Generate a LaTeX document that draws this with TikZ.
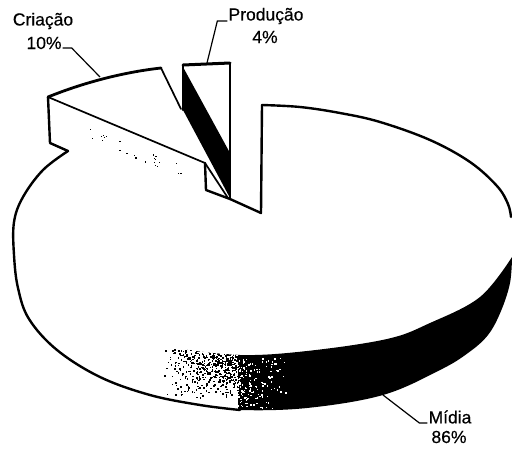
\documentclass[tikz,border=0pt]{standalone}
\usepackage{fontspec}
\setmainfont[RawFeature={embolden=0.4}]{Liberation Sans}
\tikzset{
  outline/.style={draw=black,line width=2.4pt,line join=round,line cap=round},
  thinline/.style={draw=black,line width=1.7pt,line join=round,line cap=round},
  leader/.style={draw=black,line width=1.2pt},
  lab/.style={inner sep=0pt,font=\fontsize{17.5pt}{20pt}\selectfont,text=black}
}
\begin{document}
\begin{tikzpicture}[x=1pt,y=-1pt]
\useasboundingbox (0,0) rectangle (512,448);
\fill[white] (0,0) rectangle (512,448);
% band (side of the big slice)
\def\bandpath{plot[smooth,tension=0.6] coordinates {(150,395) (200,405) (240,410) (307,408) (383,395) (440,370) (468,353) (488,335) (501,311) (510,283) (512,257)}
  -- plot[smooth,tension=0.6] coordinates {(512,257) (480,297) (430,323) (387,339) (307,351) (240,355) (173,348) (150,344)} -- cycle}
\begin{scope}
  \clip \bandpath;
  \fill[black] (238,250) rectangle (512,415);
  \pgfmathsetseed{4711}
  \foreach \i in {1,...,560}{
    \pgfmathsetmacro{\px}{160+78*sqrt(rnd)}
    \pgfmathsetmacro{\py}{348+52*rnd*sqrt(rnd)}
    \fill[black] (\px,\py) rectangle ++(1.5,1.5);
  }
  \foreach \i in {1,...,170}{
    \pgfmathsetmacro{\px}{236+60*rnd*rnd}
    \pgfmathsetmacro{\py}{358+50*rnd}
    \fill[white] (\px,\py) rectangle ++(1.4,1.4);
  }
\end{scope}
% big slice outline
\draw[outline] plot[smooth,tension=0.6] coordinates {(68,151) (43,170) (23,197) (14,222) (14,255) (18,288) (29,319) (57,350) (100,377) (150,395) (200,405) (240,410)};
\draw[outline] (68,151) -- (50,143) -- (48,97);
\draw[outline] plot[smooth,tension=0.6] coordinates {(262,105) (300,107) (340,113) (380,122) (430,140) (470,162) (497,186) (508,204) (511,217)};
\draw[outline] (262,105) -- (261,213) -- (230,199) -- (206,190) -- (205,163);
% creation slice
\draw[outline,line width=2.8pt] (48,97) .. controls (85,82) and (125,72) .. (161,68);
\draw[thinline] (161,68) -- (181,109);
\draw[thinline] (48,97) -- (205,163);
% production slice
\fill[black] (183,67) -- (230,153) -- (230,198) -- (183,110) -- cycle;
\draw[outline] (183,110) -- (183,65);
\draw[line width=3pt,line cap=round] (183,65) -- (230,63);
\draw[thinline] (230,63) -- (230,199);
\draw[thinline] (205,163) -- (228,198);
% speckles on the creation side
\pgfmathsetseed{99}
\foreach \i in {1,...,26}{
  \pgfmathsetmacro{\px}{88+95*rnd}
  \pgfmathsetmacro{\py}{97+(\px-48)*0.42+10+14*rnd}
  \fill[black] (\px,\py) rectangle ++(1.3,1.3);
}
% labels
\node[lab] (criacao) at (43,21) {Criação};
\node[lab] (ten) at (44,43) {10\%};
\node[lab] (producao) at (266,16) {Produção};
\node[lab] (four) at (265,37) {4\%};
\node[lab] (midia) at (450,417) {Mídia};
\node[lab] (eightysix) at (449,437) {86\%};
% leaders
\coordinate (ca) at (100,77);
\coordinate (pa) at (207,63);
\coordinate (ma) at (383,395);
\draw[leader] (ten.east) ++(1,5) -- ++(9,0) -- (ca);
\draw[leader] (producao.west) ++(-1,5) -- ++(-10,0) -- (pa);
\draw[leader] (midia.west) ++(-1,6) -- ++(-8,0) -- (ma);
\end{tikzpicture}
\end{document}
